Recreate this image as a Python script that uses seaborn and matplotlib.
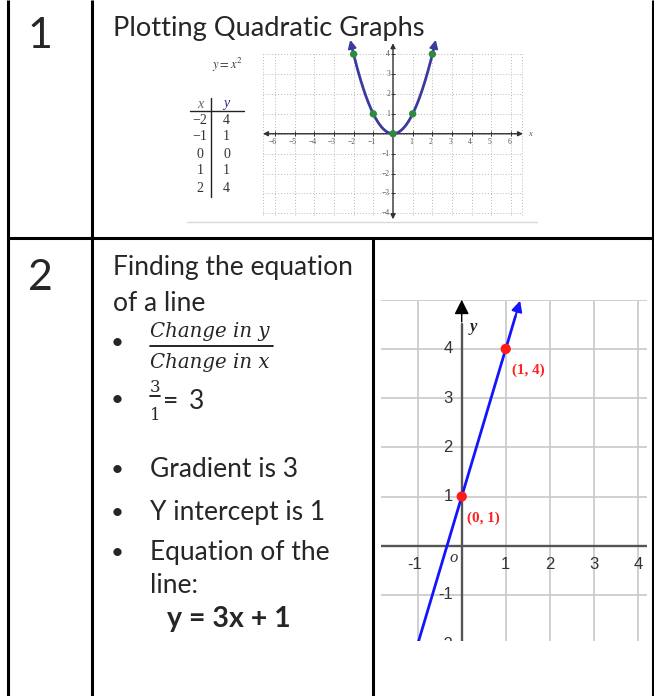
import numpy as np
import pandas as pd
import matplotlib
matplotlib.use("Agg")
import matplotlib.pyplot as plt
import seaborn as sns

# ---- content -------------------------------------------------------------
row_numbers = ["1", "2"]
title_row1 = "Plotting Quadratic Graphs"
heading_row2 = ["Finding the equation", "of a line"]
bullet_lines = ["Gradient is 3", "Y intercept is 1", "Equation of the", "line:"]
equation_text = "y = 3x + 1"
fraction_num = "Change in y"
fraction_den = "Change in x"

# table of values for y = x^2
table_x = [-2, -1, 0, 1, 2]
table_y = [4, 1, 0, 1, 4]
quad_coef = 1

# y = 3x + 1 through (0, 1) and (1, 4)
line_pts_x = [0, 1]
line_pts_y = [1, 4]
gradient = 3
intercept = 1
rise, run = 3, 1

quad_ticks_x = [-6, -5, -4, -3, -2, -1, 1, 2, 3, 4, 5, 6]
quad_ticks_y = [-4, -3, -2, -1, 1, 2, 3, 4]
line_ticks_x = [-1, 1, 2, 3, 4]
line_ticks_y = [-2, -1, 1, 2, 3, 4]

# ---- style ---------------------------------------------------------------
sns.set_theme(style="white")
plt.rcParams["font.family"] = ["Lato", "DejaVu Sans"]
plt.rcParams["mathtext.fontset"] = "stix"

W, H = 654, 696
fig = plt.figure(figsize=(W / 100, H / 100), dpi=100)
fig.patch.set_facecolor("white")

bg = fig.add_axes([0, 0, 1, 1])
bg.set_xlim(0, W)
bg.set_ylim(H, 0)
bg.axis("off")


def px_axes(left, top, right, bottom):
    return fig.add_axes([left / W, 1 - bottom / H, (right - left) / W, (bottom - top) / H])


# ---- table frame ---------------------------------------------------------
frame_kw = dict(color="black", lw=2.2, solid_capstyle="butt")
for xv in (8, 92, 652.5):
    bg.plot([xv, xv], [0, H], **frame_kw)
bg.plot([373, 373], [238, H], **frame_kw)
bg.plot([8, 652.5], [238, 238], **frame_kw)

# row numbers
bg.text(39.5, 36, row_numbers[0], fontsize=31, ha="center", va="center")
bg.text(40, 277.5, row_numbers[1], fontsize=31, ha="center", va="center")

# ---- row 1 ---------------------------------------------------------------
bg.text(113, 36, title_row1, fontsize=19.6, ha="left", va="baseline", zorder=3)

serif = "Liberation Serif"
bg.text(227, 65, r"$y = x^2$", fontsize=9, color="#333", ha="center", va="center")
bg.text(200, 104, "x", fontsize=10, family=serif, style="italic", color="#666",
        ha="center", va="center")
bg.text(226.7, 104, "y", fontsize=10, family=serif, style="italic", color="#2b2b7a",
        ha="center", va="center")
bg.plot([210.7, 210.7], [98, 197], color="#222", lw=1)
bg.plot([190, 244], [111, 111], color="#222", lw=1)
for i, (tx, ty) in enumerate(zip(table_x, table_y)):
    yy = 120 + i * 17
    bg.text(200, yy, str(tx).replace("-", "\u2212"), fontsize=10, family=serif,
            color="#333", ha="center", va="center")
    bg.text(226.7, yy, str(ty), fontsize=10, family=serif, color="#333",
            ha="center", va="center")
bg.plot([187, 537], [221.7, 221.7], color="#d8d8d8", lw=1)

ax1 = px_axes(262, 42.2, 523, 221.3)
ax1.set_xlim(-6.65, 6.6)
ax1.set_ylim(-4.4, 4.6)
ax1.axis("off")
grid_kw = dict(colors="#b8b8b8", linestyles=(0, (1, 2)), lw=0.7)
ax1.vlines(list(range(-6, 7)) + [-6.6, 6.55], -4.1, 4.1, **grid_kw)
ax1.hlines(range(-4, 5), -6.6, 6.55, **grid_kw)
axis_arrow = dict(arrowstyle="<|-|>", color="#333", lw=1.0, mutation_scale=7,
                  shrinkA=0, shrinkB=0)
ax1.annotate("", xy=(6.6, 0), xytext=(-6.6, 0), arrowprops=axis_arrow)
ax1.annotate("", xy=(0, 4.55), xytext=(0, -4.3), arrowprops=axis_arrow)
ax1.vlines(quad_ticks_x, -0.12, 0.12, colors="#333", lw=0.7)
ax1.hlines(quad_ticks_y, -0.12, 0.12, colors="#333", lw=0.7)
for t in quad_ticks_x:
    ax1.text(t - 0.1, -0.42, str(t).replace("-", "\u2212"), fontsize=5.5, family=serif,
             color="#555", ha="center", va="center")
for t in quad_ticks_y:
    ax1.text(-0.15, t, str(t).replace("-", "\u2212"), fontsize=5.5, family=serif,
             color="#555", ha="right", va="center")
ax1.text(6.95, 0, "x", fontsize=6, family=serif, style="italic", color="#555",
         ha="center", va="center", clip_on=False)

xq = np.linspace(-2.1, 2.1, 200)
sns.lineplot(x=xq, y=quad_coef * xq ** 2, ax=ax1, color="#3b3b9e", lw=2, zorder=4)
for s in (-1, 1):
    ax1.annotate("", xy=(s * 2.17, 4.72), xytext=(s * 2.1, 4.41),
                 arrowprops=dict(arrowstyle="-|>", color="#3b3b9e", lw=1.5,
                                 mutation_scale=12, shrinkA=0, shrinkB=0),
                 annotation_clip=False, zorder=5)
sns.scatterplot(x=table_x, y=table_y, ax=ax1, color="#2e8b3e", s=28,
                edgecolor="none", zorder=6)

# ---- row 2, left text ----------------------------------------------------
body = 19
bg.text(113, 275, heading_row2[0], fontsize=body, ha="left", va="baseline")
bg.text(113, 311, heading_row2[1], fontsize=body, ha="left", va="baseline")

bullet_kw = dict(fontsize=16, ha="center", va="center")
for by in (343, 400, 470, 513, 553):
    bg.text(117, by, "\u2022", **bullet_kw)

frac_font = dict(family="DejaVu Serif", style="italic", fontsize=14.2, ha="left",
                 va="baseline")
bg.text(150, 337, fraction_num, **frac_font)
bg.plot([150, 273], [346, 346], color="black", lw=1.2)
bg.text(150, 368, fraction_den, **frac_font)

bg.text(155, 392, str(rise), family="DejaVu Serif", fontsize=12, ha="center", va="baseline")
bg.plot([150, 160], [395.5, 395.5], color="black", lw=1.2)
bg.text(155, 420, str(run), family="DejaVu Serif", fontsize=12, ha="center", va="baseline")
bg.text(163, 409, "=", fontsize=body, ha="left", va="baseline")
bg.text(189, 409, str(gradient), fontsize=body, ha="left", va="baseline")

for txt, by in zip(bullet_lines, (477, 520, 560, 593)):
    bg.text(150, by, txt, fontsize=body, ha="left", va="baseline")
bg.text(167, 627, equation_text, fontsize=20.5, fontweight="bold", ha="left",
        va="baseline")

# ---- row 2, straight-line graph -----------------------------------------
ax2 = px_axes(381, 299.7, 647, 641.2)
ax2.set_xlim(-1.834, 4.21)
ax2.set_ylim(-1.94, 5.0)
ax2.axis("off")
for v in line_ticks_x:
    ax2.axvline(v, color="#c8c8c8", lw=1.2, zorder=1)
for h in [-1, 1, 2, 3, 4, 5]:
    ax2.axhline(h, color="#c8c8c8", lw=1.2, zorder=1)
ax2.axhline(0, color="#555", lw=1.7, zorder=2)
ax2.axvline(0, ymax=0.93, color="#555", lw=1.7, zorder=2)
ax2.annotate("", xy=(0, 5.0), xytext=(0, 4.55),
             arrowprops=dict(arrowstyle="-|>", color="black", lw=1,
                             mutation_scale=22, shrinkA=0, shrinkB=0),
             annotation_clip=False, zorder=3)

xl = np.array([-1.05, 1.22])
sns.lineplot(x=xl, y=gradient * xl + intercept, ax=ax2, color="#1414ff", lw=2, zorder=4)
ax2.annotate("", xy=(1.327, 4.98), xytext=(1.22, 4.66),
             arrowprops=dict(arrowstyle="-|>", color="#1414ff", lw=1.5,
                             mutation_scale=16, shrinkA=0, shrinkB=0),
             annotation_clip=False, zorder=5)
sns.scatterplot(x=line_pts_x, y=line_pts_y, ax=ax2, color="#ff1a1a", s=55,
                edgecolor="none", zorder=6)
for (px, py), (lx, ly) in zip(zip(line_pts_x, line_pts_y), [(0.12, 0.56), (1.14, 3.57)]):
    ax2.text(lx, ly, f"({px}, {py})", family=serif, fontweight="bold", fontsize=10.8,
             color="#ff2020", ha="left", va="center")

tick_font = dict(family="Liberation Sans", fontsize=12, color="#333")
for t in line_ticks_x:
    ax2.text(t - (0.07 if t < 0 else 0), -0.38, str(t), ha="center", va="center",
             **tick_font)
for t in line_ticks_y:
    ax2.text(-0.2, t, str(t), ha="right", va="center", clip_on=True, **tick_font)
ax2.text(-0.175, -0.25, "o", family=serif, style="italic", fontsize=12, color="#333",
         ha="center", va="center")
ax2.text(0.26, 4.45, "y", family=serif, style="italic", fontweight="bold", fontsize=12,
         color="#222", ha="center", va="center")

fig.savefig("out.png", dpi=100, facecolor="white")
